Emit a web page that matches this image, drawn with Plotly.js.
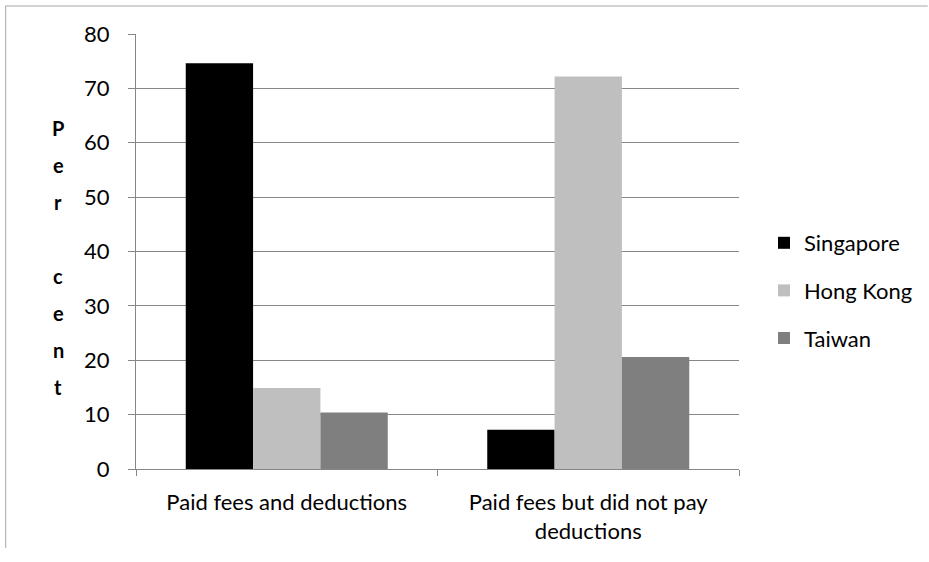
<!DOCTYPE html>
<html>
<head>
<meta charset="utf-8">
<script src="https://cdn.plot.ly/plotly-3.0.1.min.js"></script>
<style>html,body{margin:0;padding:0;background:#fff;}#chart{width:929px;height:562px;}</style>
</head>
<body>
<div id="chart"></div>
<script>
const categories = ["Paid fees and deductions", "Paid fees but did not pay<br>deductions"];
const seriesNames = ["Singapore", "Hong Kong", "Taiwan"];
const singapore = [74.6, 7.2];
const hongKong = [14.9, 72.2];
const taiwan = [10.4, 20.6];
const seriesColors = ["#000000", "#bfbfbf", "#7f7f7f"];
const yTickVals = [0, 10, 20, 30, 40, 50, 60, 70, 80];
const titleLetters = ["P", "e", "r", "", "c", "e", "n", "t"];

const FONT = "Lato, 'Open Sans', sans-serif";
const FS = 22;
const values = [singapore, hongKong, taiwan];
const traces = seriesNames.map((name, i) => ({
  type: "bar",
  name: name,
  x: categories,
  y: values[i],
  marker: {color: seriesColors[i], line: {width: 0}},
  legendgroup: "g" + i,
  hoverinfo: "y+name"
}));

// Plot area geometry (pixels)
const L = 136, R = 929 - 740, T = 34, B = 562 - 469;
const plotH = 562 - T - B, plotW = 929 - L - R;
const py = p => (469 - p) / plotH;
const px = p => (p - L) / plotW;

const annotations = [];
titleLetters.forEach((ch, i) => {
  if (!ch) return;
  annotations.push({
    text: "<b>" + ch + "</b>", xref: "paper", yref: "paper",
    x: px(58), y: py(128 + i * 37), xanchor: "center", yanchor: "middle",
    showarrow: false, font: {family: FONT, size: 20, color: "#000"}
  });
});

const layout = {
  width: 929, height: 562,
  margin: {l: L, r: R, t: T, b: B},
  paper_bgcolor: "#fff", plot_bgcolor: "#fff",
  font: {family: FONT, size: FS, color: "#000"},
  barmode: "group",
  bargap: 0.33, bargroupgap: 0,
  showlegend: true,
  legend: {
    x: px(764), y: py(222), xanchor: "left", yanchor: "top",
    traceorder: "grouped", tracegroupgap: 16,
    font: {family: FONT, size: FS, color: "#000"},
    bgcolor: "rgba(0,0,0,0)"
  },
  xaxis: {
    type: "category",
    showline: true, linecolor: "#868686", linewidth: 1,
    ticks: "outside", tickson: "boundaries", ticklen: 6, tickcolor: "#868686",
    showgrid: false, zeroline: false,
    tickfont: {family: FONT, size: FS, color: "#000"},
    ticklabelstandoff: 14
  },
  yaxis: {
    range: [0, 80], tickvals: yTickVals, ticktext: yTickVals.map(String),
    showline: true, linecolor: "#868686", linewidth: 1,
    ticks: "outside", ticklen: 7, tickcolor: "#868686",
    showgrid: true, gridcolor: "#868686", gridwidth: 1,
    zeroline: false,
    tickfont: {family: FONT, size: FS, color: "#000"},
    ticklabelstandoff: 14
  },
  annotations: annotations,
  shapes: [
    {type: "line", xref: "paper", yref: "paper", x0: px(5), x1: px(929), y0: py(6), y1: py(6),
     line: {color: "#a6a6a6", width: 1}},
    {type: "line", xref: "paper", yref: "paper", x0: px(5.5), x1: px(5.5), y0: py(6), y1: py(548),
     line: {color: "#a6a6a6", width: 1}}
  ]
};

Plotly.newPlot("chart", traces, layout, {displayModeBar: false, staticPlot: true});
</script>
</body>
</html>
